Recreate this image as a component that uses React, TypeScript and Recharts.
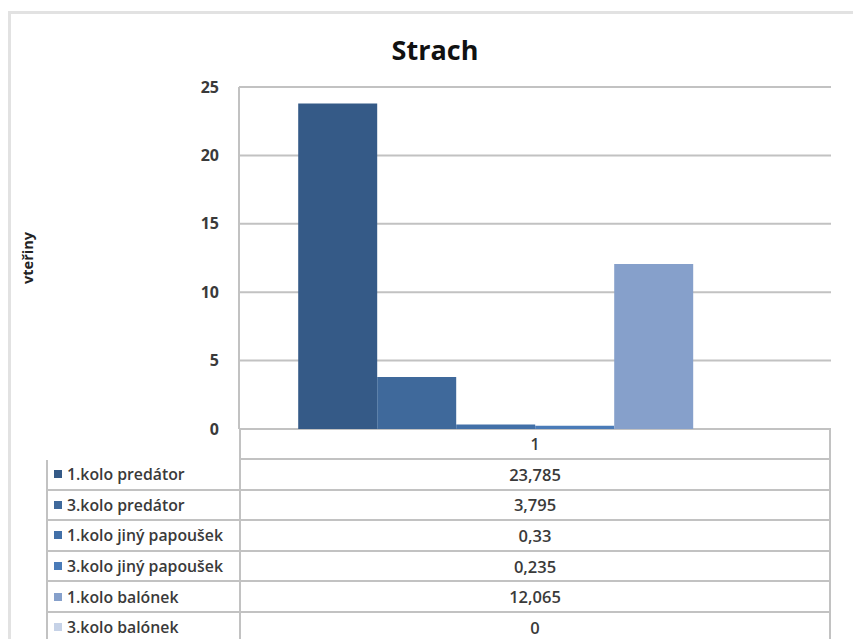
import React from 'react';
import { BarChart, Bar, XAxis, YAxis, CartesianGrid } from 'recharts';

const categories = ['1'];
const seriesNames = [
  '1.kolo predátor',
  '3.kolo predátor',
  '1.kolo jiný papoušek',
  '3.kolo jiný papoušek',
  '1.kolo balónek',
  '3.kolo balónek',
];
const seriesValues = [23.785, 3.795, 0.33, 0.235, 12.065, 0];
const seriesColors = ['#355a87', '#3f699b', '#4270a8', '#4a7bb8', '#86a0cb', '#c6d2e7'];
const yTicks = [0, 5, 10, 15, 20, 25];

const chartTitle = 'Strach';
const yAxisTitle = 'vteřiny';

const data = categories.map((name) => {
  const row: Record<string, string | number> = { name };
  seriesNames.forEach((s, i) => {
    row[`s${i}`] = seriesValues[i];
  });
  return row;
});

const font = '"Open Sans", "Liberation Sans", sans-serif';
const lineColor = '#c2c2c2';
const textColor = '#3a3a3a';

// plot area edges, used to line the data table up under the bars
const plotLeft = 239;
const plotRight = 831;
const plotBottom = 429;
const rowTop = 460;
const rowHeight = 30.6;

const fmt = (v: number) => String(v).replace('.', ',');

const cellText: React.CSSProperties = {
  fontFamily: font,
  fontSize: 15.8,
  fontWeight: 600,
  color: textColor,
  whiteSpace: 'nowrap',
  boxSizing: 'border-box',
  display: 'flex',
  alignItems: 'center',
};

function DataTable() {
  return (
    <div style={{ position: 'absolute', left: 0, top: 0, width: 853, height: 639, pointerEvents: 'none' }}>
      {/* header cell with the category name */}
      <div
        style={{
          ...cellText,
          position: 'absolute',
          left: plotLeft,
          top: plotBottom,
          width: plotRight - plotLeft,
          height: rowTop - plotBottom,
          borderRight: `2px solid ${lineColor}`,
          borderBottom: `2px solid ${lineColor}`,
          borderLeft: `2px solid ${lineColor}`,
          justifyContent: 'center',
        }}
      >
        {categories[0]}
      </div>
      {seriesNames.map((name, i) => (
        <React.Fragment key={name}>
          <div
            style={{
              ...cellText,
              position: 'absolute',
              left: 46,
              top: rowTop + i * rowHeight,
              width: plotLeft - 46 + 1,
              height: rowHeight,
              borderLeft: `2px solid ${lineColor}`,
              borderBottom: `2px solid ${lineColor}`,
              paddingLeft: 6,
            }}
          >
            <span
              style={{
                display: 'inline-block',
                flex: 'none',
                width: 8,
                height: 8,
                background: seriesColors[i],
                marginRight: 5,
              }}
            />
            {name}
          </div>
          <div
            style={{
              ...cellText,
              fontSize: 16.5,
              position: 'absolute',
              left: plotLeft,
              top: rowTop + i * rowHeight,
              width: plotRight - plotLeft,
              height: rowHeight,
              borderLeft: `2px solid ${lineColor}`,
              borderRight: `2px solid ${lineColor}`,
              borderBottom: `2px solid ${lineColor}`,
              justifyContent: 'center',
            }}
          >
            {fmt(seriesValues[i])}
          </div>
        </React.Fragment>
      ))}
    </div>
  );
}

export default function App() {
  return (
    <div
      style={{
        position: 'absolute',
        left: 0,
        top: 0,
        width: 853,
        height: 639,
        background: '#fff',
        overflow: 'hidden',
      }}
    >
      {/* outer chart frame */}
      <div
        style={{
          position: 'absolute',
          left: 8,
          top: 11,
          width: 860,
          height: 700,
          borderTop: '3px solid #e2e2e2',
          borderLeft: '3px solid #e2e2e2',
        }}
      />
      <div
        style={{
          position: 'absolute',
          left: 0,
          width: 870,
          top: 32,
          textAlign: 'center',
          fontFamily: font,
          fontWeight: 700,
          fontSize: 27,
          lineHeight: '36px',
          color: '#111',
        }}
      >
        {chartTitle}
      </div>
      <div
        style={{
          position: 'absolute',
          left: 27,
          top: 258,
          transform: 'translate(-50%, -50%) rotate(-90deg)',
          fontFamily: font,
          fontWeight: 700,
          fontSize: 14.5,
          color: '#222',
          whiteSpace: 'nowrap',
        }}
      >
        {yAxisTitle}
      </div>
      <div style={{ position: 'absolute', left: 0, top: 0 }}>
        <BarChart
          width={853}
          height={639}
          data={data}
          margin={{ top: 87, right: 853 - plotRight, bottom: 639 - plotBottom, left: plotLeft - 40 }}
          barCategoryGap="10%"
          barGap={0}
        >
          <CartesianGrid vertical={false} stroke={lineColor} strokeWidth={2} />
          <XAxis dataKey="name" hide />
          <YAxis
            width={40}
            domain={[0, 25]}
            ticks={yTicks}
            interval={0}
            tickLine={false}
            tickSize={0}
            tickMargin={20}
            axisLine={{ stroke: lineColor, strokeWidth: 2 }}
            tick={{ fontSize: 16, fontFamily: font, fontWeight: 700, fill: textColor }}
          />
          {seriesNames.map((name, i) => (
            <Bar key={name} dataKey={`s${i}`} name={name} fill={seriesColors[i]} isAnimationActive={false} />
          ))}
        </BarChart>
      </div>
      <DataTable />
    </div>
  );
}
